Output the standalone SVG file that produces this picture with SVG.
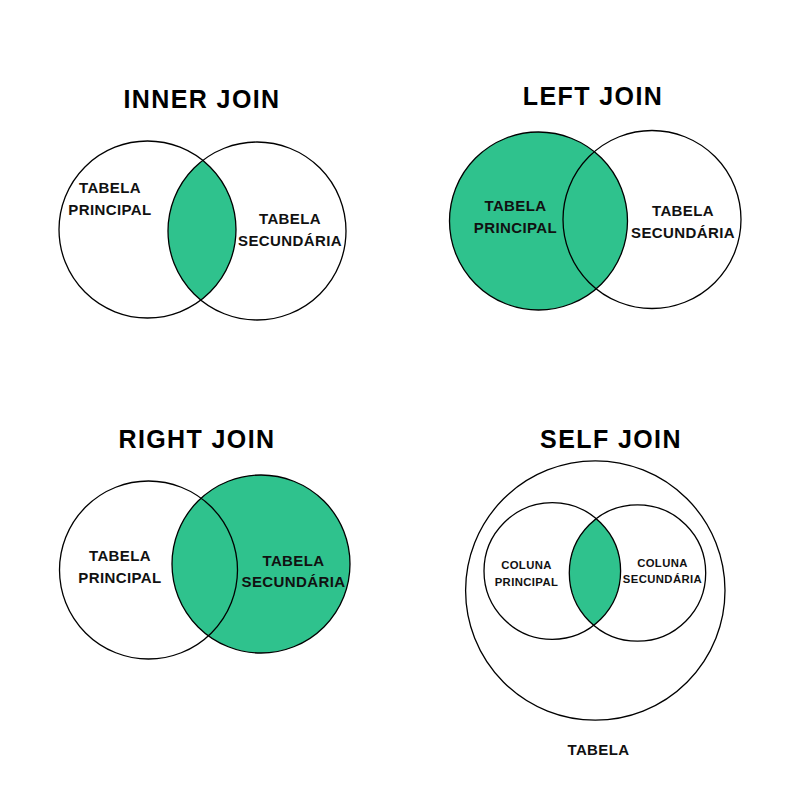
<svg xmlns="http://www.w3.org/2000/svg" width="800" height="800" viewBox="0 0 800 800">
  <style>
    .title { font-family: "Liberation Sans", Arial, sans-serif; font-weight: bold; font-size: 25px; letter-spacing: 1.4px; text-anchor: middle; fill: #000; }
    .lbl { font-family: "Liberation Sans", Arial, sans-serif; font-weight: bold; font-size: 15px; letter-spacing: 0.4px; text-anchor: middle; fill: #111; }
    .sm { font-family: "Liberation Sans", Arial, sans-serif; font-weight: bold; font-size: 11.3px; letter-spacing: 0.4px; text-anchor: middle; fill: #111; }
    .ring { fill: none; stroke: #000; stroke-width: 1.3; }
    .green { fill: #2fc28d; }
  </style>
  <defs>
    <clipPath id="clipInnerB"><circle cx="257" cy="231" r="89"/></clipPath>
    <clipPath id="clipSelfB"><circle cx="637.5" cy="573" r="68.2"/></clipPath>
  </defs>
  <rect width="800" height="800" fill="#fff"/>

  <g id="inner-join">
    <text class="title" x="202" y="108">INNER JOIN</text>
    <circle class="green" cx="147.5" cy="229.5" r="88.5" clip-path="url(#clipInnerB)"/>
    <g id="inner-principal">
      <circle class="ring" cx="147.5" cy="229.5" r="88.5"/>
      <text class="lbl" x="110" y="193">TABELA</text>
      <text class="lbl" x="110" y="215">PRINCIPAL</text>
    </g>
    <g id="inner-secundaria">
      <circle class="ring" cx="257" cy="231" r="89"/>
      <text class="lbl" x="290" y="224">TABELA</text>
      <text class="lbl" x="290" y="246">SECUNDÁRIA</text>
    </g>
  </g>

  <g id="left-join">
    <text class="title" x="593" y="105">LEFT JOIN</text>
    <g id="left-principal">
      <circle class="green" cx="538.5" cy="221" r="89"/>
      <circle class="ring" cx="538.5" cy="221" r="89"/>
      <text class="lbl" x="515.5" y="211">TABELA</text>
      <text class="lbl" x="515.5" y="233">PRINCIPAL</text>
    </g>
    <g id="left-secundaria">
      <circle class="ring" cx="652" cy="219.5" r="89"/>
      <text class="lbl" x="683" y="216">TABELA</text>
      <text class="lbl" x="683" y="238">SECUNDÁRIA</text>
    </g>
  </g>

  <g id="right-join">
    <text class="title" x="197" y="448">RIGHT JOIN</text>
    <g id="right-secundaria">
      <circle class="green" cx="261" cy="564" r="89"/>
      <circle class="ring" cx="261" cy="564" r="89"/>
      <text class="lbl" x="293.5" y="566">TABELA</text>
      <text class="lbl" x="293.5" y="587">SECUNDÁRIA</text>
    </g>
    <g id="right-principal">
      <circle class="ring" cx="148.5" cy="570" r="89"/>
      <text class="lbl" x="120" y="561">TABELA</text>
      <text class="lbl" x="120" y="583">PRINCIPAL</text>
    </g>
  </g>

  <g id="self-join">
    <text class="title" x="611" y="448">SELF JOIN</text>
    <g id="self-tabela">
      <circle class="ring" cx="595.3" cy="590.5" r="129.7" stroke-width="2"/>
      <text class="lbl" x="598.5" y="755">TABELA</text>
    </g>
    <circle class="green" cx="552.3" cy="571" r="68.3" clip-path="url(#clipSelfB)"/>
    <g id="self-principal">
      <circle class="ring" cx="552.3" cy="571" r="68.3" stroke-width="1.1"/>
      <text class="sm" x="526.5" y="569">COLUNA</text>
      <text class="sm" x="526.5" y="585.5">PRINCIPAL</text>
    </g>
    <g id="self-secundaria">
      <circle class="ring" cx="637.5" cy="573" r="68.2" stroke-width="1.1"/>
      <text class="sm" x="662.5" y="567">COLUNA</text>
      <text class="sm" x="662.5" y="582.5">SECUNDÁRIA</text>
    </g>
  </g>
</svg>
